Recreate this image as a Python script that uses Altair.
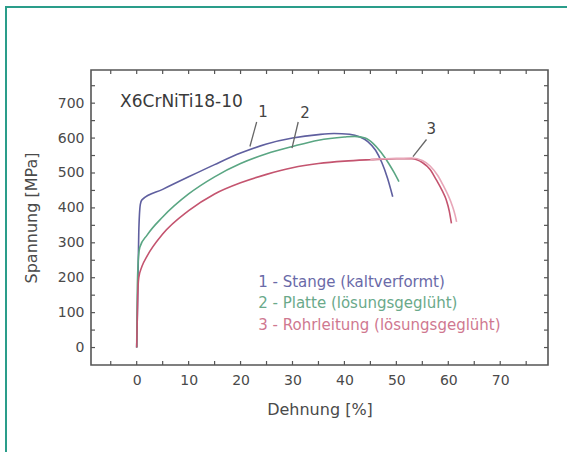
import altair as alt
import pandas as pd

# ---- data ----
c1_x = [0, 0.2, 0.4, 0.7, 1, 5, 10, 15, 20, 25, 30, 35, 38, 41, 43, 44.5, 46, 47.2, 48.3, 49.3]
c1_y = [0, 150, 330, 410, 423, 453, 489, 524, 557, 583, 600, 610, 613, 611, 603, 590, 565, 530, 485, 432]

c2_x = [0, 0.1, 0.3, 0.6, 2, 5, 10, 15, 20, 25, 30, 35, 40, 42, 44, 45.5, 47, 48.5, 49.5, 50.5]
c2_y = [0, 150, 250, 287, 322, 374, 440, 489, 527, 555, 576, 594, 603, 605, 600, 585, 560, 528, 503, 475]

c3_x = [0, 0.2, 0.4, 1, 2, 5, 10, 15, 20, 25, 30, 35, 40, 45, 50, 53, 55, 56.5, 57.7, 58.8, 59.6, 60.2, 60.6]
c3_y = [0, 150, 200, 232, 262, 325, 392, 440, 472, 496, 515, 527, 534, 538, 541, 541, 530, 510, 480, 450, 423, 390, 356]

c3b_x = [45, 50, 53, 55, 56.5, 58, 59, 60, 60.8, 61.3, 61.6]
c3b_y = [539, 542, 543, 536, 520, 492, 465, 435, 405, 380, 360]

series_names = ["1", "2", "3", "3b"]
series_colors = ["#5f5f9f", "#5aa683", "#c4546f", "#e8a6b8"]

x_labels = [0, 10, 20, 30, 40, 50, 60, 70]
y_labels = [0, 100, 200, 300, 400, 500, 600, 700]
x_ticks = [-5, 0, 5, 10, 15, 20, 25, 30, 35, 40, 45, 50, 55, 60, 65, 70, 75]
y_ticks = [0, 50, 100, 150, 200, 250, 300, 350, 400, 450, 500, 550, 600, 650, 700, 750]

curve_labels = ["1", "2", "3"]
curve_label_x = [24.3, 32.4, 56.7]
curve_label_y = [675, 671, 627]
leader_x1 = [23.1, 31.1, 55.8]
leader_y1 = [646, 646, 596]
leader_x2 = [21.8, 29.9, 53.2]
leader_y2 = [576, 571, 547]

legend_texts = ["1 - Stange (kaltverformt)", "2 - Platte (lösungsgeglüht)", "3 - Rohrleitung (lösungsgeglüht)"]
legend_colors = ["#6a6aa8", "#6aa98a", "#cf7890"]
legend_x = 23.4
legend_y = [187, 128, 66]

title_text = "X6CrNiTi18-10"
title_x = -3.2
title_y = 704

# ---- build tables ----
rows = []
for name, xs_, ys_ in [("1", c1_x, c1_y), ("2", c2_x, c2_y), ("3", c3_x, c3_y), ("3b", c3b_x, c3b_y)]:
    for i, (a, b) in enumerate(zip(xs_, ys_)):
        rows.append({"s": name, "i": i, "x": a, "y": b})
curves = pd.DataFrame(rows)

W, H = 457, 295
FONT = "DejaVu Sans"
XDOM = [-8.8, 79.2]
YDOM = [-50, 795]

xs = alt.Scale(domain=XDOM, nice=False, zero=False)
ys = alt.Scale(domain=YDOM, nice=False, zero=False)

lines = alt.Chart(curves).mark_line(strokeWidth=1.6, clip=True, interpolate="monotone").encode(
    x=alt.X("x:Q", scale=xs, axis=alt.Axis(
        values=x_labels, ticks=False, domain=False, grid=False, title="Dehnung [%]",
        labelFont=FONT, labelFontSize=14, labelColor="#4a4a4a", labelPadding=8,
        titleFont=FONT, titleFontSize=16, titleFontWeight="normal", titleColor="#4a4a4a",
        titlePadding=14)),
    y=alt.Y("y:Q", scale=ys, axis=alt.Axis(
        values=y_labels, ticks=False, domain=False, grid=False, title="Spannung [MPa]",
        labelFont=FONT, labelFontSize=14, labelColor="#4a4a4a", labelPadding=7,
        titleFont=FONT, titleFontSize=16, titleFontWeight="normal", titleColor="#4a4a4a",
        titlePadding=18)),
    color=alt.Color("s:N", scale=alt.Scale(domain=series_names, range=series_colors), legend=None),
    order="i:Q",
)

xt = pd.DataFrame({"v": x_ticks})
yt = pd.DataFrame({"v": y_ticks})
tick_col = "#555555"
tb = alt.Chart(xt).mark_rule(color=tick_col, strokeWidth=1.2).encode(
    x=alt.X("v:Q", scale=xs), y=alt.value(H), y2=alt.value(H - 4))
tt = alt.Chart(xt).mark_rule(color=tick_col, strokeWidth=1.2).encode(
    x=alt.X("v:Q", scale=xs), y=alt.value(0), y2=alt.value(4))
tl = alt.Chart(yt).mark_rule(color=tick_col, strokeWidth=1.2).encode(
    y=alt.Y("v:Q", scale=ys), x=alt.value(0), x2=alt.value(4))
tr = alt.Chart(yt).mark_rule(color=tick_col, strokeWidth=1.2).encode(
    y=alt.Y("v:Q", scale=ys), x=alt.value(W), x2=alt.value(W - 4))

lead = pd.DataFrame({"x1": leader_x1, "y1": leader_y1, "x2": leader_x2, "y2": leader_y2})
leaders = alt.Chart(lead).mark_rule(color="#666666", strokeWidth=1.3).encode(
    x=alt.X("x1:Q", scale=xs), y=alt.Y("y1:Q", scale=ys), x2="x2:Q", y2="y2:Q")

lab = pd.DataFrame({"t": curve_labels, "x": curve_label_x, "y": curve_label_y})
labels = alt.Chart(lab).mark_text(font=FONT, fontSize=15, color="#444444", baseline="middle", align="center").encode(
    x=alt.X("x:Q", scale=xs), y=alt.Y("y:Q", scale=ys), text="t:N")

leg = pd.DataFrame({"t": legend_texts, "y": legend_y, "c": legend_colors})
legend = alt.Chart(leg).mark_text(font=FONT, fontSize=15, align="left", baseline="middle").encode(
    x=alt.datum(legend_x, scale=xs), y=alt.Y("y:Q", scale=ys), text="t:N",
    color=alt.Color("c:N", scale=None))

ttl = pd.DataFrame({"t": [title_text], "x": [title_x], "y": [title_y]})
title = alt.Chart(ttl).mark_text(font=FONT, fontSize=17, align="left", baseline="middle", color="#3a3a3a").encode(
    x=alt.X("x:Q", scale=xs), y=alt.Y("y:Q", scale=ys), text="t:N")

dummy = pd.DataFrame({"d": [0]})
border_col = "#2a9d8a"
bleft = alt.Chart(dummy).mark_rule(color=border_col, strokeWidth=2).encode(
    x=alt.value(-85), x2=alt.value(-85), y=alt.value(-63), y2=alt.value(400))
btop = alt.Chart(dummy).mark_rule(color=border_col, strokeWidth=2).encode(
    x=alt.value(-86), x2=alt.value(500), y=alt.value(-63), y2=alt.value(-63))

chart = alt.layer(
    lines, tb, tt, tl, tr, leaders, labels, legend, title, bleft, btop
).properties(
    width=W, height=H,
    autosize=alt.AutoSizeParams(type="none"),
    padding={"left": 91, "top": 70, "right": 19, "bottom": 87},
    background="white",
).configure_view(stroke="#555555", strokeWidth=1.6)

chart.save("out.html", embed_options={"renderer": "svg", "actions": False})
